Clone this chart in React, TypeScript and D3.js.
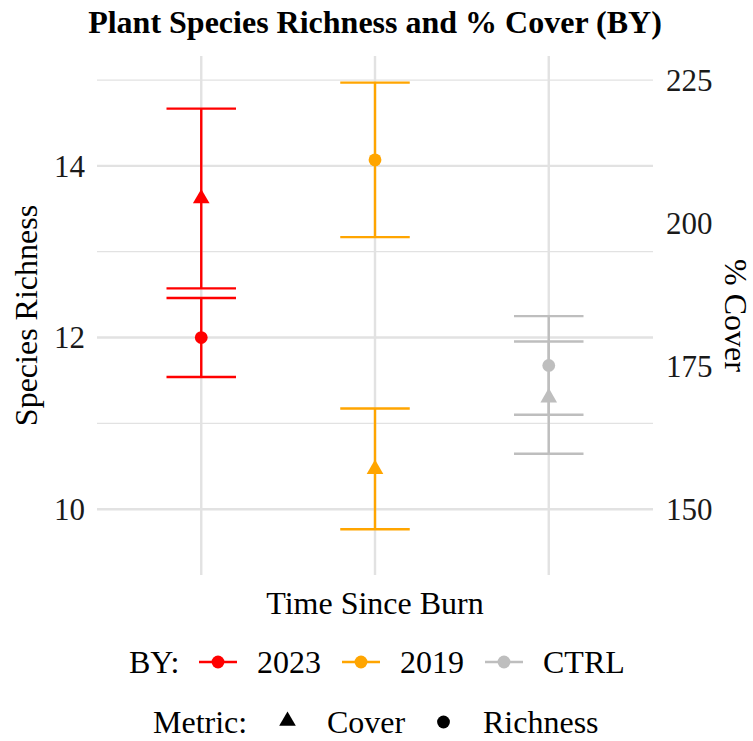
import React from "react";
import * as d3 from "d3";

// Burn-year groups along the x axis
const groups = ["2023", "2019", "CTRL"];
const groupColors = ["#FF0000", "#FFA500", "#BEBEBE"];

// Species richness: mean with lower / upper error limits
const richnessMean = [12.0, 14.07, 11.675];
const richnessLow = [11.54, 13.17, 11.1];
const richnessHigh = [12.46, 14.97, 12.25];

// Percent cover: mean with lower / upper error limits
const coverMean = [204.3, 157.0, 169.5];
const coverLow = [188.6, 146.5, 159.7];
const coverHigh = [220.0, 167.6, 179.3];

// Axis ticks
const richnessTicks = [10, 12, 14];
const richnessMinorTicks = [11, 13, 15];
const coverTicks = [150, 175, 200, 225];

// Cover is drawn on the richness scale, divided by this factor
const coverFactor = 15;
const richnessDomain = [9.234, 15.28];

const W = 753;
const H = 741;
const FONT = "'Liberation Serif', 'Times New Roman', serif";

export default function App() {
  const panel = { left: 97, right: 653, top: 56, bottom: 575 };

  const x = d3
    .scalePoint<string>()
    .domain(groups)
    .range([panel.left, panel.right])
    .padding(0.6);
  const xPos = (g: string) => x(g) as number;
  const step = x.step();

  const y = d3.scaleLinear().domain(richnessDomain).range([panel.bottom, panel.top]);
  const yCover = d3
    .scaleLinear()
    .domain(richnessDomain.map((v) => v * coverFactor))
    .range([panel.bottom, panel.top]);

  const capHalf = step * 0.2;
  const triangle = d3.symbol().type(d3.symbolTriangle).size(120)();
  const gridColor = "#E2E2E2";
  const lineW = 2.4;

  const errorBar = (cx: number, yLo: number, yHi: number, color: string, key: string) => (
    <g key={key} stroke={color} strokeWidth={lineW} fill="none">
      <line x1={cx} x2={cx} y1={yLo} y2={yHi} />
      <line x1={cx - capHalf} x2={cx + capHalf} y1={yLo} y2={yLo} />
      <line x1={cx - capHalf} x2={cx + capHalf} y1={yHi} y2={yHi} />
    </g>
  );

  // Legend layout
  const row1Y = 662;
  const row2Y = 722;
  const byItems = [
    { keyX: 199, textX: 257 },
    { keyX: 342, textX: 400 },
    { keyX: 485, textX: 543 },
  ];

  return (
    <svg width={W} height={H} style={{ position: "absolute", left: 0, top: 0, background: "#fff" }} fontFamily={FONT}>
      <rect width={W} height={H} fill="#fff" />

      {/* grid */}
      {richnessMinorTicks.map((t) => (
        <line key={"mn" + t} x1={panel.left} x2={panel.right} y1={y(t)} y2={y(t)} stroke={gridColor} strokeWidth={1.3} />
      ))}
      {richnessTicks.map((t) => (
        <line key={"mj" + t} x1={panel.left} x2={panel.right} y1={y(t)} y2={y(t)} stroke={gridColor} strokeWidth={2.4} />
      ))}
      {groups.map((g) => (
        <line key={"vx" + g} x1={xPos(g)} x2={xPos(g)} y1={panel.top} y2={panel.bottom} stroke={gridColor} strokeWidth={2.4} />
      ))}

      {/* error bars */}
      {groups.map((g, i) =>
        errorBar(xPos(g), y(richnessLow[i]), y(richnessHigh[i]), groupColors[i], "re" + g)
      )}
      {groups.map((g, i) =>
        errorBar(xPos(g), yCover(coverLow[i]), yCover(coverHigh[i]), groupColors[i], "ce" + g)
      )}

      {/* points */}
      {groups.map((g, i) => (
        <path
          key={"cp" + g}
          d={triangle ?? ""}
          transform={`translate(${xPos(g)},${yCover(coverMean[i])})`}
          fill={groupColors[i]}
        />
      ))}
      {groups.map((g, i) => (
        <circle key={"rp" + g} cx={xPos(g)} cy={y(richnessMean[i])} r={6.4} fill={groupColors[i]} />
      ))}

      {/* left axis */}
      {richnessTicks.map((t) => (
        <text key={"lt" + t} x={85} y={y(t)} dy="0.35em" textAnchor="end" fontSize={31} fill="#1a1a1a">
          {t}
        </text>
      ))}
      {/* right axis */}
      {coverTicks.map((t) => (
        <text key={"rt" + t} x={666} y={yCover(t)} dy="0.35em" textAnchor="start" fontSize={31} fill="#1a1a1a">
          {t}
        </text>
      ))}

      {/* axis titles */}
      <text transform={`translate(37,${(panel.top + panel.bottom) / 2}) rotate(-90)`} textAnchor="middle" fontSize={32} fill="#000">
        Species Richness
      </text>
      <text transform={`translate(725,${(panel.top + panel.bottom) / 2}) rotate(90)`} textAnchor="middle" fontSize={32} fill="#000">
        % Cover
      </text>
      <text x={(panel.left + panel.right) / 2} y={614} textAnchor="middle" fontSize={32} fill="#000">
        Time Since Burn
      </text>

      {/* title */}
      <text x={(panel.left + panel.right) / 2} y={33} textAnchor="middle" fontSize={32} fontWeight="bold" fill="#000">
        Plant Species Richness and % Cover (BY)
      </text>

      {/* legend: burn year */}
      <text x={129} y={row1Y} dy="0.35em" fontSize={32} fill="#000">
        BY:
      </text>
      {groups.map((g, i) => (
        <g key={"lg" + g}>
          <line x1={byItems[i].keyX} x2={byItems[i].keyX + 38} y1={row1Y} y2={row1Y} stroke={groupColors[i]} strokeWidth={lineW} />
          <circle cx={byItems[i].keyX + 19} cy={row1Y} r={6.4} fill={groupColors[i]} />
          <text x={byItems[i].textX} y={row1Y} dy="0.35em" fontSize={32} fill="#000">
            {g}
          </text>
        </g>
      ))}

      {/* legend: metric */}
      <text x={153} y={row2Y} dy="0.35em" fontSize={32} fill="#000">
        Metric:
      </text>
      <path d={triangle ?? ""} transform={`translate(287.5,${row2Y - 1})`} fill="#000" />
      <text x={327} y={row2Y} dy="0.35em" fontSize={32} fill="#000">
        Cover
      </text>
      <circle cx={443.5} cy={row2Y} r={6.4} fill="#000" />
      <text x={483} y={row2Y} dy="0.35em" fontSize={32} fill="#000">
        Richness
      </text>
    </svg>
  );
}
